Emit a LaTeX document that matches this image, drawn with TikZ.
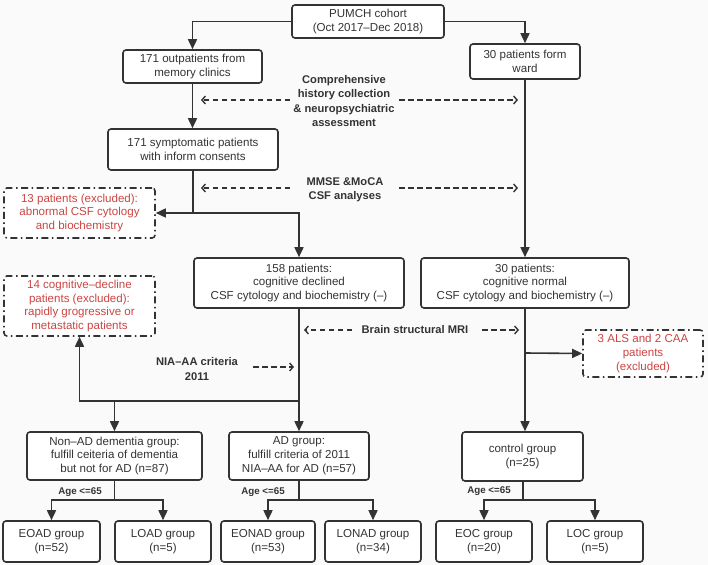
\documentclass[tikz,border=0pt]{standalone}
\usepackage{fontspec}
\setmainfont{Liberation Sans}
\usetikzlibrary{arrows.meta}
\definecolor{lncol}{RGB}{51,51,51}
\definecolor{exred}{RGB}{204,68,66}
\definecolor{bgcol}{RGB}{250,250,250}
\begin{document}
\begin{tikzpicture}[x=1bp,y=-1bp,
 box/.style={draw=lncol,line width=1.6bp,rounded corners=3bp,fill=white,align=center,text=lncol,font=\fontsize{11.6}{14}\selectfont,inner sep=0pt},
 exbox/.style={box,dash pattern=on 7bp off 3.5bp on 1.5bp off 3.5bp,text=exred},
 arr/.style={draw=lncol,line width=1.6bp,-{Triangle[length=10bp,width=9bp]}},
 conn/.style={draw=lncol,line width=1.6bp},
 dar/.style={draw=lncol,line width=1.4bp,dash pattern=on 5.5bp off 3.5bp,-{Straight Barb[length=3.5bp,width=8bp]}},
 lab/.style={font=\bfseries\fontsize{11.2}{14.5}\selectfont,text=lncol,align=center,inner sep=0pt},
 agel/.style={font=\bfseries\fontsize{9.8}{10}\selectfont,text=lncol,inner sep=0pt}
]
\fill[bgcol] (0,0) rectangle (708,565);
\useasboundingbox (0,0) rectangle (708,565);

% boxes
\node[box,minimum width=152bp,minimum height=33bp] (pumch) at (368,21.5) {PUMCH cohort\\(Oct 2017–Dec 2018)};
\node[box,minimum width=139bp,minimum height=33bp] (outp) at (192.5,66.5) {171 outpatients from\\memory clinics};
\node[box,minimum width=110bp,minimum height=35bp] (ward) at (525,61.5) {30 patients form\\ward};
\node[box,minimum width=170bp,minimum height=41bp] (symp) at (193,149.5) {171 symptomatic patients\\with inform consents};
\node[exbox,minimum width=151bp,minimum height=50bp] (ex13) at (79.5,213) {13 patients (excluded):\\abnormal CSF cytology\\and biochemistry};
\node[box,minimum width=210bp,minimum height=50bp] (p158) at (299,283) {158 patients:\\cognitive declined\\CSF cytology and biochemistry (–)};
\node[box,minimum width=208bp,minimum height=50bp] (p30) at (525,283) {30 patients:\\cognitive normal\\CSF cytology and biochemistry (–)};
\node[exbox,minimum width=151bp,minimum height=60bp] (ex14) at (79.5,306) {14 cognitive–decline\\patients (excluded):\\rapidly grogressive or\\metastatic patients};
\node[exbox,minimum width=120bp,minimum height=47bp] (ex5) at (643,353.5) {3 ALS and 2 CAA\\patients\\(excluded)};
\node[box,minimum width=175bp,minimum height=48bp] (nonad) at (114.5,456) {Non–AD dementia group:\\fulfill ceiteria of dementia\\but not for AD (n=87)};
\node[box,minimum width=140bp,minimum height=48bp] (ad) at (299,456) {AD group:\\fulfill criteria of 2011\\NIA–AA for AD (n=57)};
\node[box,minimum width=121bp,minimum height=49bp] (ctrl) at (522.5,456.5) {control group\\(n=25)};
\node[box,minimum width=97bp,minimum height=41bp] (eoad) at (51.5,541.5) {EOAD group\\(n=52)};
\node[box,minimum width=96bp,minimum height=41bp] (load) at (163,541.5) {LOAD group\\(n=5)};
\node[box,minimum width=94bp,minimum height=41bp] (eonad) at (268,541.5) {EONAD group\\(n=53)};
\node[box,minimum width=96bp,minimum height=41bp] (lonad) at (373,541.5) {LONAD group\\(n=34)};
\node[box,minimum width=96bp,minimum height=41bp] (eoc) at (484,541.5) {EOC group\\(n=20)};
\node[box,minimum width=96bp,minimum height=41bp] (loc) at (595,541.5) {LOC group\\(n=5)};

% labels
\node[lab] (l1) at (344,101) {Comprehensive\\history collection\\\& neuropsychiatric\\assessment};
\node[lab] (l2) at (345,190) {MMSE \&MoCA\\CSF analyses};
\node[lab] (l3) at (415,330) {Brain structural MRI};
\node[lab] (l4) at (197,369) {NIA–AA criteria\\2011};
\node[agel] (a1) at (80,492) {Age <=65};
\node[agel] (a2) at (263,492) {Age <=65};
\node[agel] (a3) at (489,491) {Age <=65};

% coordinates
\coordinate (j1) at (193,213);
\coordinate (j2) at (299,401);
\coordinate (j3) at (525,353);
\coordinate (s1) at (114.5,500);
\coordinate (s2) at (299,500);
\coordinate (s3) at (523,500);

% solid connectors
\draw[arr] (pumch.west) -| (outp.north);
\draw[arr] (pumch.east) -| (ward.north);
\draw[arr] (outp.south) -- (outp.south |- symp.north);
\draw[conn] (symp.south) -- (j1);
\draw[arr] (j1) -- (ex13.east);
\draw[arr] (j1) -| (p158.north);
\draw[arr] (ward.south) -- (p30.north);
\draw[arr] (p158.south) -- (ad.north);
\draw[arr] (j2) -| (ex14.south);
\draw[arr] (nonad.north |- j2) -- (nonad.north);
\draw[arr] (p30.south) -- (p30.south |- ctrl.north);
\draw[arr] (j3) -- (ex5.west);
\draw[conn] (nonad.south) -- (s1);
\draw[arr] (s1) -| (eoad.north);
\draw[arr] (s1) -| (load.north);
\draw[conn] (ad.south) -- (s2);
\draw[arr] (s2) -| (eonad.north);
\draw[arr] (s2) -| (lonad.north);
\draw[conn] (s3 |- ctrl.south) -- (s3);
\draw[arr] (s3) -| (eoc.north);
\draw[arr] (s3) -| (loc.north);

% dashed connectors
\coordinate (d1a) at (290,100); \coordinate (d1b) at (201,100);
\coordinate (d1c) at (399,100); \coordinate (d1d) at (518,100);
\coordinate (d2a) at (290,188); \coordinate (d2b) at (201,188);
\coordinate (d2c) at (399,188); \coordinate (d2d) at (518,188);
\coordinate (d3a) at (352,330); \coordinate (d3b) at (304,330);
\coordinate (d3c) at (482,330); \coordinate (d3d) at (519,330);
\coordinate (d4a) at (253,367); \coordinate (d4b) at (294,367);
\draw[dar] (d1a) -- (d1b);
\draw[dar] (d1c) -- (d1d);
\draw[dar] (d2a) -- (d2b);
\draw[dar] (d2c) -- (d2d);
\draw[dar] (d3a) -- (d3b);
\draw[dar] (d3c) -- (d3d);
\draw[dar] (d4a) -- (d4b);
\end{tikzpicture}
\end{document}
